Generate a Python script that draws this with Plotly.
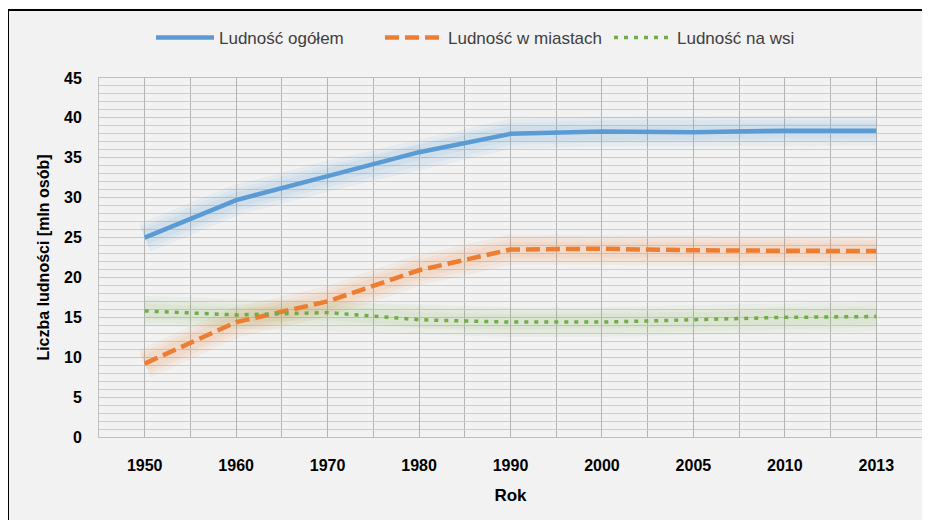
import plotly.graph_objects as go

years = ["1950", "1960", "1970", "1980", "1990", "2000", "2005", "2010", "2013"]
total = [25.0, 29.7, 32.7, 35.7, 38.0, 38.3, 38.2, 38.4, 38.4]
urban = [9.2, 14.4, 17.0, 20.9, 23.5, 23.6, 23.4, 23.4, 23.3]
rural = [15.8, 15.3, 15.6, 14.7, 14.4, 14.4, 14.7, 15.0, 15.1]

names = ["Ludność ogółem", "Ludność w miastach", "Ludność na wsi"]
colors = ["#5B9BD5", "#ED7D31", "#70AD47"]
glow = ["rgba(91,155,213,0.07)", "rgba(237,125,49,0.07)", "rgba(112,173,71,0.06)"]
dashes = ["solid", "14px,6px", "4px,6px"]
widths = [4.5, 4.5, 3.5]

x = list(range(len(years)))
fig = go.Figure()
series = [total, urban, rural]
for s, g in zip(series, glow):
    for w in (30, 22, 15):
        fig.add_trace(go.Scatter(x=x, y=s, mode="lines", line=dict(color=g, width=w),
                                 showlegend=False, hoverinfo="skip"))
for s, n, c, d, w in zip(series, names, colors, dashes, widths):
    fig.add_trace(go.Scatter(x=x, y=s, mode="lines", name=n,
                             line=dict(color=c, width=w, dash=d)))

# figure is shown with an 8px page offset
L, R, T, B = 91, 16, 70, 91
W, H = 930, 520
pw, ph = W - L - R, H - T - B

def px2x(p):
    return (p - L) / pw

def py2y(p):
    return (H - B - p) / ph

fig.update_layout(
    width=W, height=H,
    margin=dict(l=L, r=R, t=T, b=B, autoexpand=False),
    paper_bgcolor="white",
    plot_bgcolor="#F2F2F2",
    font=dict(family="Liberation Sans, Arial, sans-serif", color="#000000"),
    legend=dict(orientation="h", xref="container", yref="container",
                x=143 / W, xanchor="left", y=1 - 30 / H, yanchor="middle",
                font=dict(size=17, color="#404040"), bgcolor="rgba(0,0,0,0)",
                entrywidth=156, itemwidth=58),
    shapes=[
        dict(type="rect", xref="paper", yref="paper", x0=px2x(0), x1=px2x(940),
             y0=py2y(530), y1=py2y(2), fillcolor="#F2F2F2",
             line=dict(color="black", width=2), layer="below"),
    ],
    xaxis=dict(
        range=[-0.5, len(years) - 0.5], tickmode="linear", tick0=0, dtick=1,
        labelalias={str(i): y for i, y in enumerate(years)},
        showgrid=True, gridcolor="#B4B4B4", gridwidth=1,
        minor=dict(tickmode="linear", tick0=-0.5, dtick=1, showgrid=True, gridcolor="#B4B4B4"),
        showline=True, linecolor="#BFBFBF", mirror=True, zeroline=False,
        ticks="", ticklabelstandoff=14, automargin=False,
        tickfont=dict(size=16, family="Liberation Sans, Arial", weight="bold"),
        title=dict(text="<b>Rok</b>", font=dict(size=17), standoff=15),
    ),
    yaxis=dict(
        range=[0, 45], tickmode="linear", tick0=0, dtick=5,
        showgrid=True, gridcolor="#C8C8C8", gridwidth=1,
        minor=dict(tickmode="linear", tick0=0, dtick=1, showgrid=True, gridcolor="#CDCDCD"),
        showline=True, linecolor="#BFBFBF", mirror=True, zeroline=False,
        ticks="", ticklabelstandoff=13, automargin=False,
        tickfont=dict(size=16, family="Liberation Sans, Arial", weight="bold"),
        title=dict(text="<b>Liczba ludności [mln osób]</b>", font=dict(size=16), standoff=10),
    ),
)

fig.write_html("out.html")
